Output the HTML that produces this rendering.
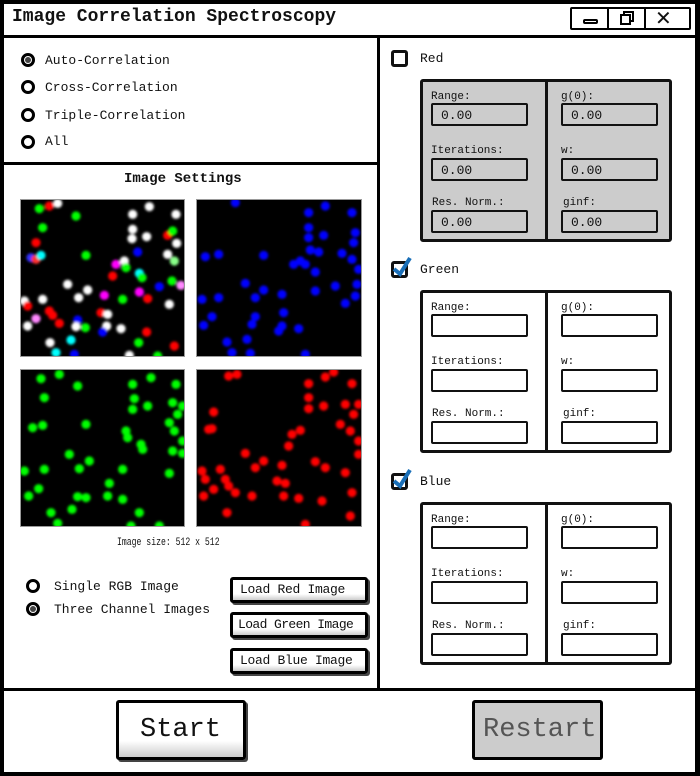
<!DOCTYPE html>
<html><head><meta charset="utf-8"><style>
*{box-sizing:border-box;margin:0;padding:0}
body{width:700px;height:776px;background:#fff;position:relative;overflow:hidden;font-family:"Liberation Mono",monospace;color:#111}
.a{position:absolute}
.t{position:absolute;white-space:nowrap;line-height:1}
.radio{position:absolute;width:14px;height:14px;border:3px solid #000;border-radius:50%;background:#fff}
.radio.on::after{content:"";position:absolute;left:1px;top:1px;width:6px;height:6px;border-radius:50%;background:#444}
.inp{position:absolute;width:97px;height:23px;border:2px solid #111;border-radius:2px;background:#fff;font-size:13px;padding:3px 0 0 8px}
.grp{position:absolute;left:420px;width:252px;height:163px;border:3px solid #111;border-radius:3px}
.lbl{position:absolute;font-size:11px;white-space:nowrap}
.btn{position:absolute;border:3px solid #000;border-radius:3px;background:linear-gradient(#fff 70%,#ccc);box-shadow:2px 2px 0 #444;font-size:13px;padding-left:7px;line-height:20px;white-space:nowrap;overflow:hidden;letter-spacing:-0.3px}
.cb{position:absolute;left:391px;width:17px;height:17px;border:3px solid #111;border-radius:3px;background:#fff}
.img{position:absolute;background:#000;border:1px solid #999}
</style></head><body>
<div class="a" style="left:0;top:0;width:700px;height:776px;border:4px solid #000;border-right-width:5px"></div>
<div class="t" style="left:12px;top:8px;font-size:18px;font-weight:bold">Image Correlation Spectroscopy</div>
<div class="a" style="left:570px;top:7px;width:121px;height:23px;border:2px solid #000;border-radius:2px">
 <div class="a" style="left:0;top:0;width:37px;height:19px;border-right:2px solid #000"><div class="a" style="left:11px;top:10px;width:15px;height:5px;border:2px solid #000;border-radius:2px"></div></div>
 <div class="a" style="left:37px;top:0;width:37px;height:19px;border-right:2px solid #000"><div class="a" style="left:14px;top:2px;width:11px;height:11px;border:2px solid #000"></div><div class="a" style="left:11px;top:5px;width:11px;height:11px;border:2px solid #000;background:#fff"></div></div>
 <div class="t" style="left:83px;top:0px;font-size:20px;font-family:'Liberation Sans',sans-serif">✕</div>
</div>
<div class="a" style="left:0;top:35px;width:700px;height:3px;background:#000"></div>
<div class="a" style="left:377px;top:36px;width:3px;height:655px;background:#000"></div>
<div class="a" style="left:0;top:162px;width:379px;height:3px;background:#000"></div>
<div class="a" style="left:0;top:688px;width:700px;height:3px;background:#000"></div>

<div class="radio on" style="left:21px;top:53px"></div>
<div class="t" style="left:45px;top:54px;font-size:13px">Auto-Correlation</div>
<div class="radio" style="left:21px;top:80px"></div>
<div class="t" style="left:45px;top:81px;font-size:13px">Cross-Correlation</div>
<div class="radio" style="left:21px;top:108px"></div>
<div class="t" style="left:45px;top:109px;font-size:13px">Triple-Correlation</div>
<div class="radio" style="left:21px;top:135px"></div>
<div class="t" style="left:45px;top:135px;font-size:13px">All</div>

<div class="t" style="left:124px;top:172px;font-size:14px;font-weight:bold">Image Settings</div>
<svg class="img" style="left:20px;top:199px" width="165" height="158" id="imgC"></svg>
<svg class="img" style="left:196px;top:199px" width="166" height="158" id="imgB"></svg>
<svg class="img" style="left:20px;top:369px" width="165" height="158" id="imgG"></svg>
<svg class="img" style="left:196px;top:369px" width="166" height="158" id="imgR"></svg>
<div class="t" style="left:117px;top:538px;font-size:11px;transform:scaleX(0.74);transform-origin:0 0">Image size: 512 x 512</div>

<div class="radio" style="left:26px;top:579px"></div>
<div class="t" style="left:54px;top:580px;font-size:13px">Single RGB Image</div>
<div class="radio on" style="left:26px;top:602px"></div>
<div class="t" style="left:54px;top:603px;font-size:13px">Three Channel Images</div>
<div class="btn" style="left:230px;top:577px;width:138px;height:26px">Load Red Image</div>
<div class="btn" style="left:230px;top:612px;width:138px;height:26px;padding-left:5px;letter-spacing:-0.6px">Load Green Image</div>
<div class="btn" style="left:230px;top:648px;width:138px;height:26px">Load Blue Image</div>

<div id="right"></div>

<div class="btn" style="left:116px;top:700px;width:130px;height:60px;font-size:27px;line-height:54px;padding-left:21px;letter-spacing:0">Start</div>
<div class="a" style="left:472px;top:700px;width:131px;height:60px;border:3px solid #000;border-radius:3px;background:#ccc;font-size:27px;line-height:54px;padding-left:8px;color:#555">Restart</div>

<script>
const blueDots=[[660,20],[880,50],[930,30],[1010,50],[880,95],[880,125],[925,118],[1020,110],[1015,140],[570,182],[610,175],[745,178],[885,162],[910,168],[835,205],[855,195],[870,205],[900,228],[980,172],[1010,190],[1030,220],[690,262],[745,282],[720,305],[800,295],[900,285],[960,270],[1025,265],[1020,300],[990,322],[560,310],[610,305],[590,362],[565,388],[720,362],[710,385],[805,350],[800,390],[790,405],[850,398],[635,438],[695,430],[650,470],[705,472],[870,475]];
const greenDots=[[130,535],[75,548],[185,570],[85,605],[350,565],[405,545],[480,565],[355,608],[350,640],[395,630],[470,620],[500,630],[485,655],[460,680],[475,705],[500,735],[50,695],[80,688],[210,685],[330,705],[335,725],[375,745],[380,760],[470,765],[500,772],[160,775],[220,795],[190,818],[85,820],[25,825],[320,820],[460,832],[280,862],[68,878],[38,900],[185,902],[210,905],[275,900],[320,910],[168,940],[105,950],[125,982],[370,950],[345,990],[430,990]];
const redDots=[[640,540],[665,535],[880,563],[930,543],[955,528],[1010,563],[880,605],[880,638],[925,630],[990,625],[1030,625],[1015,655],[595,648],[580,700],[590,698],[975,685],[1005,705],[1030,735],[1030,775],[830,715],[855,703],[820,750],[690,772],[745,795],[720,815],[800,808],[900,797],[930,815],[990,830],[560,825],[570,850],[615,820],[630,850],[640,870],[595,880],[565,900],[660,890],[710,900],[785,855],[810,862],[805,900],[850,907],[920,915],[1010,890],[635,950],[1005,960],[870,985]];
const compDots=[[125,22,'#fff'],[100,30,'#f00'],[70,38,'#0f0'],[180,60,'#0f0'],[80,95,'#0f0'],[350,55,'#fff'],[400,32,'#fff'],[480,55,'#fff'],[350,100,'#fff'],[348,128,'#fff'],[392,122,'#fff'],[455,118,'#f00'],[470,105,'#0f0'],[482,142,'#fff'],[60,140,'#f00'],[45,185,'#33f'],[60,190,'#f33'],[75,178,'#0ff'],[210,178,'#0f0'],[365,168,'#00f'],[455,175,'#fff'],[475,195,'#8f8'],[300,205,'#f0f'],[325,195,'#fff'],[330,215,'#0f0'],[370,232,'#0ff'],[378,245,'#0f0'],[290,240,'#f00'],[155,265,'#fff'],[215,282,'#fff'],[188,305,'#fff'],[265,298,'#f0f'],[320,310,'#0f0'],[370,288,'#f0f'],[395,308,'#f00'],[430,272,'#00f'],[468,255,'#0f0'],[495,268,'#f8f'],[460,325,'#fff'],[80,310,'#fff'],[25,315,'#fff'],[35,330,'#f00'],[100,345,'#f00'],[110,358,'#f00'],[60,368,'#f8f'],[130,382,'#f00'],[35,390,'#fff'],[185,372,'#00f'],[180,392,'#fff'],[208,395,'#0f0'],[255,350,'#f00'],[275,355,'#fff'],[272,390,'#fff'],[260,408,'#00f'],[315,398,'#fff'],[392,408,'#f00'],[368,440,'#0f0'],[475,450,'#f00'],[165,432,'#0ff'],[102,440,'#fff'],[120,470,'#0ff'],[175,475,'#00f'],[340,478,'#fff'],[425,480,'#0f0']];

function drawDots(id,dots,ox,oy,color){
  const svg=document.getElementById(id);
  svg.innerHTML='<defs><filter id="f'+id+'"><feGaussianBlur stdDeviation="1.4"/></filter></defs>';
  const g=document.createElementNS('http://www.w3.org/2000/svg','g');
  g.setAttribute('filter','url(#f'+id+')');
  svg.appendChild(g);
  dots.forEach(d=>{
    const c=document.createElementNS('http://www.w3.org/2000/svg','circle');
    
    
    c.setAttribute('cx',(d[0]-ox)/3);c.setAttribute('cy',(d[1]-oy)/3);c.setAttribute('r',4.6);
    c.setAttribute('fill',d[2]||color);
    g.appendChild(c);
  });
}
drawDots('imgB',blueDots,545,12,'#00f');
drawDots('imgG',greenDots,15,522,'#0f0');
drawDots('imgR',redDots,545,522,'#f00');
drawDots('imgC',compDots,15,12,'#fff');

const channels=[['Red',0,false,true],['Green',211,true,false],['Blue',423,true,false]];
const right=document.getElementById('right');
channels.forEach(([name,dy,checked,filled])=>{
  const k=name.toLowerCase();
  const cb=document.createElement('div');cb.className='cb';cb.style.top=(50+dy)+'px';
  
  
  if(checked) cb.innerHTML='<svg class="a" style="left:-2px;top:-8px" width="20" height="22"><path d="M2 13 L8 18 L18 2" stroke="#1a6fb8" stroke-width="4" fill="none"/></svg>';
  right.appendChild(cb);
  const lb=document.createElement('div');lb.className='t';lb.style.cssText='left:420px;top:'+(52+dy)+'px;font-size:13px';lb.textContent=name;
  
  
  right.appendChild(lb);
  const g=document.createElement('div');g.className='grp';g.style.top=(79+dy)+'px';g.style.background=filled?'#ccc':'#fff';
  
  
  g.innerHTML='<div class="a" style="left:122px;top:0;width:3px;height:157px;background:#111"></div>';
  right.appendChild(g);
  const fields=[['Range:',431,91,103],['Iterations:',431,145,158],['Res. Norm.:',432,197,210],['g(0):',561,91,103],['w:',561,145,158],['ginf:',563,197,210]];
  fields.forEach(([t,x,ly,iy])=>{
    const l=document.createElement('div');l.className='lbl';l.style.left=x+'px';l.style.top=(ly+dy)+'px';l.textContent=t;
    
    
    right.appendChild(l);
    const i=document.createElement('div');i.className='inp';i.style.left=(x<500?431:561)+'px';i.style.top=(iy+dy)+'px';
    
    
    if(filled){i.textContent='0.00';i.style.background='#ccc';}
    right.appendChild(i);
  });
});
</script>
</body></html>
